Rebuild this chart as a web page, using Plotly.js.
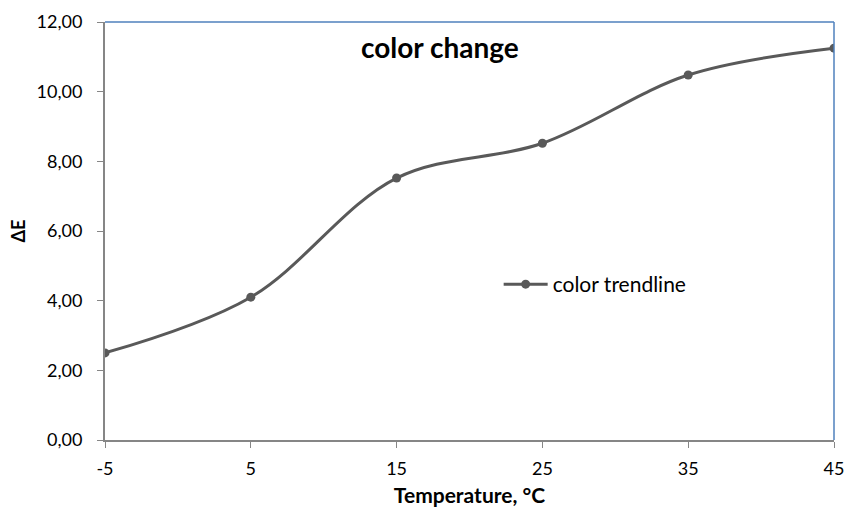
<!DOCTYPE html>
<html><head><meta charset="utf-8">
<script src="https://cdn.plot.ly/plotly-3.0.1.min.js"></script>
<style>html,body{margin:0;padding:0;background:#fff}#chart{width:847px;height:511px}</style>
</head><body><div id="chart"></div>
<script>
const temperature = [-5, 5, 15, 25, 35, 45];
const deltaE = [2.5, 4.1, 7.52, 8.52, 10.48, 11.25];
const xTicks = [-5, 5, 15, 25, 35, 45];
const yTicks = [0, 2, 4, 6, 8, 10, 12];

const FONT = 'Lato, "Open Sans", sans-serif';
const trace = {
  x: temperature, y: deltaE, type: 'scatter', mode: 'lines+markers',
  name: 'color trendline',
  line: {color: '#595959', width: 3, shape: 'spline', smoothing: 1},
  marker: {color: '#595959', size: 9}
};
const layout = {
  width: 847, height: 511,
  margin: {l: 105, r: 13, t: 22, b: 71},
  paper_bgcolor: '#fff', plot_bgcolor: '#fff',
  separators: ',.',
  font: {family: FONT, size: 18, color: '#000'},
  showlegend: true,
  legend: {x: 0.54, y: 0.372, xanchor: 'left', yanchor: 'middle', itemwidth: 44, bgcolor: 'rgba(0,0,0,0)', font: {size: 21, family: FONT}},
  annotations: [{text: '<b>color change</b>', xref: 'paper', yref: 'paper', x: 0.459, y: 0.94, yanchor: 'middle', showarrow: false, font: {size: 28, family: FONT, color: '#000'}}],
  xaxis: {
    range: [-5, 45], tickvals: xTicks, ticktext: xTicks.map(String),
    showgrid: false, zeroline: false, showline: true, linecolor: '#868686', linewidth: 2,
    ticks: 'outside', ticklen: 6, tickcolor: '#868686', tickwidth: 1,
    ticklabelstandoff: 5,
    tickfont: {size: 18},
    title: {text: '<b>Temperature, °C</b>', font: {size: 21, family: FONT}, standoff: 11},
    mirror: false
  },
  yaxis: {
    range: [0, 12], tickvals: yTicks, tickformat: '.2f',
    showgrid: false, zeroline: false, showline: true, linecolor: '#868686', linewidth: 2,
    ticks: 'outside', ticklen: 6, tickcolor: '#868686', tickwidth: 1,
    ticklabelstandoff: 11,
    tickfont: {size: 18},
    title: {text: '<b>ΔE</b>', font: {size: 18, family: FONT}, standoff: 6}
  },
  shapes: [
    {type: 'line', xref: 'paper', yref: 'paper', x0: 0, x1: 1, y0: 1, y1: 1, line: {color: '#4f81bd', width: 1.5}},
    {type: 'line', xref: 'paper', yref: 'paper', x0: 1, x1: 1, y0: 0, y1: 1, line: {color: '#4f81bd', width: 1.5}}
  ]
};
Plotly.newPlot('chart', [trace], layout, {displayModeBar: false, staticPlot: true});
</script></body></html>
